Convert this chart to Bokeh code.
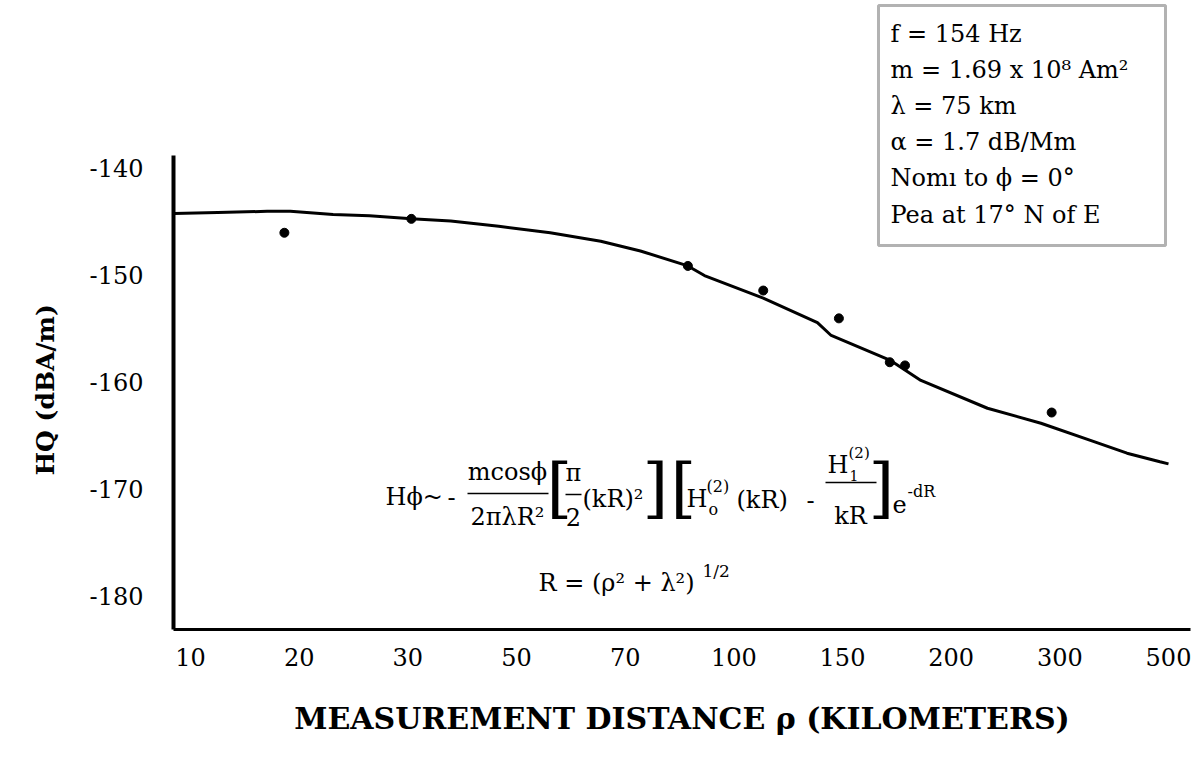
import numpy as np
from bokeh.plotting import figure
from bokeh.models import Label, Range1d, FixedTicker, BoxAnnotation, Title
from bokeh.embed import file_html
from bokeh.resources import INLINE

# ---------------- data ----------------
tick_km = [10, 20, 30, 50, 70, 100, 150, 200, 300, 500]
y_ticks = [-140, -150, -160, -170, -180]

meas_km = [18.2, 30.5, 86.0, 111.6, 148.0, 170.0, 177.0, 291.0]
meas_db = [-146.1, -144.8, -149.2, -151.5, -154.1, -158.2, -158.5, -162.9]

curve_km = [9.0, 11.9, 16.3, 18.9, 22.7, 26.0, 30.5, 36.7, 46.0, 55.5, 64.9,
            73.6, 86.0, 90.8, 111.6, 136.6, 143.8, 170.0, 184.6, 229.0,
            279.6, 346.4, 411.4, 480.3, 500.0]
curve_db = [-144.3, -144.2, -144.1, -144.1, -144.4, -144.5, -144.8, -145.0,
            -145.5, -146.1, -146.9, -147.8, -149.2, -150.1, -152.2, -154.5,
            -155.7, -158.0, -159.9, -162.5, -163.9, -165.5, -166.7, -167.5,
            -167.7]

info_lines = ["f = 154 Hz", "m = 1.69 x 10\u2078 Am\u00b2", "\u03bb = 75 km",
              "\u03b1 = 1.7 dB/Mm", "Nom\u0131 to \u03d5 = 0\u00b0",
              "Pea at 17\u00b0 N of E"]

# -------- axis position mapping (labelled distances are evenly spaced) --------
lt = np.log10(tick_km)
idx = np.arange(len(tick_km), dtype=float)


def km_to_pos(km):
    l = np.log10(np.asarray(km, dtype=float))
    pos = np.interp(l, lt, idx)
    lo = l < lt[0]
    pos[lo] = (l[lo] - lt[0]) / (lt[1] - lt[0])
    hi = l > lt[-1]
    pos[hi] = idx[-1] + (l[hi] - lt[-1]) / (lt[-1] - lt[-2])
    return pos


W, H = 1197, 768
FL, FR, FT, FB = 173, 1190, 0, 629
PX0, PXS = 190.0, (1168.0 - 190.0) / 9.0
PY0, PYS = 167.0, 10.7


def dx(px):
    return (px - PX0) / PXS


def dy(py):
    return -140.0 - (py - PY0) / PYS


FONT = "DejaVu Serif"

p = figure(width=W, height=H, output_backend="svg", toolbar_location=None,
           title=None,
           x_range=Range1d(dx(FL), dx(FR)), y_range=Range1d(dy(FB), dy(FT)),
           min_border_left=FL, min_border_right=W - FR,
           min_border_top=FT, min_border_bottom=H - FB)
p.outline_line_color = None
p.grid.visible = False
p.background_fill_color = "white"
p.border_fill_color = "white"

xa = p.xaxis[0]
xa.ticker = FixedTicker(ticks=list(idx))
xa.major_label_overrides = {int(i): str(k) for i, k in zip(idx, tick_km)}
xa.bounds = (dx(FL), dx(FR))
xa.axis_line_width = 3
xa.axis_line_color = "black"
xa.major_tick_line_color = None
xa.minor_tick_line_color = None
xa.major_tick_out = 0
xa.major_tick_in = 0
xa.major_label_standoff = 18
xa.major_label_text_font = FONT
xa.major_label_text_font_size = "24px"
xa.major_label_text_color = "black"
xa.axis_label = "MEASUREMENT DISTANCE \u03c1 (KILOMETERS)"
xa.axis_label_text_font = FONT
xa.axis_label_text_font_size = "30px"
xa.axis_label_text_font_style = "bold"
xa.axis_label_text_color = "black"
xa.axis_label_standoff = 32

ya = p.yaxis[0]
ya.ticker = FixedTicker(ticks=y_ticks)
ya.major_label_overrides = {t: str(t) for t in y_ticks}
ya.bounds = (dy(FB), dy(155))
ya.axis_line_width = 4
ya.axis_line_color = "black"
ya.major_tick_line_color = None
ya.minor_tick_line_color = None
ya.major_tick_out = 0
ya.major_tick_in = 0
ya.major_label_standoff = 30
ya.major_label_text_font = FONT
ya.major_label_text_font_size = "24px"
ya.major_label_text_color = "black"

# y axis title in the left panel, centred on the visible part of the axis
p.add_layout(Title(text="HQ (dBA/m)", text_font=FONT, text_font_size="25px",
                   text_font_style="bold", text_color="black", align="left",
                   offset=154, standoff=54), "left")

# ---------------- marks ----------------
p.line(km_to_pos(curve_km), curve_db, line_color="black", line_width=3)
p.scatter(km_to_pos(meas_km), meas_db, size=9, color="black")

# ---------------- info box ----------------
p.add_layout(BoxAnnotation(left=dx(878), right=dx(1165), top=dy(5), bottom=dy(245),
                           fill_color=None, line_color="black", line_width=3))
for py, txt in zip([33, 69, 105, 141, 177, 214], info_lines):
    p.add_layout(Label(x=dx(890), y=dy(py), text=txt, text_font=FONT,
                       text_font_size="24px", text_baseline="middle",
                       text_align="left", text_color="black"))


def lab(px, py, txt, size=24, align="left"):
    p.add_layout(Label(x=dx(px), y=dy(py), text=txt, text_font=FONT,
                       text_font_size=f"{size}px", text_baseline="middle",
                       text_align=align, text_color="black"))


# ---------------- formula ----------------
lab(385, 496, "H\u03d5~")
lab(447, 496, "-")
lab(507, 471, "mcos\u03d5", align="center")
lab(507, 516, "2\u03c0\u03bbR\u00b2", align="center")
lab(546, 487, "[", size=66)
lab(573, 472, "\u03c0", align="center")
lab(573, 516, "2", align="center")
lab(582, 498, "(kR)\u00b2")
lab(642, 487, "]", size=66)
lab(670, 487, "[", size=66)
lab(686, 498, "H")
lab(706, 486, "(2)", size=16)
lab(708, 509, "o", size=16)
lab(736, 499, "(kR)")
lab(806, 499, "-")
lab(827, 464, "H")
lab(848, 452, "(2)", size=15)
lab(849, 475, "1", size=14)
lab(850, 515, "kR", align="center")
lab(868, 487, "]", size=66)
lab(892, 503, "e")
lab(907, 491, "-dR", size=16)
seg_x0 = [dx(467), dx(565), dx(825)]
seg_x1 = [dx(548), dx(581), dx(876)]
seg_y = [dy(493), dy(494), dy(482)]
p.segment(x0=seg_x0, y0=seg_y, x1=seg_x1, y1=seg_y, line_color="black", line_width=1.5)

lab(538, 582, "R = (\u03c1\u00b2 + \u03bb\u00b2)")
lab(702, 570, "1/2", size=17)

open("out.html", "w").write(file_html(p, INLINE))
